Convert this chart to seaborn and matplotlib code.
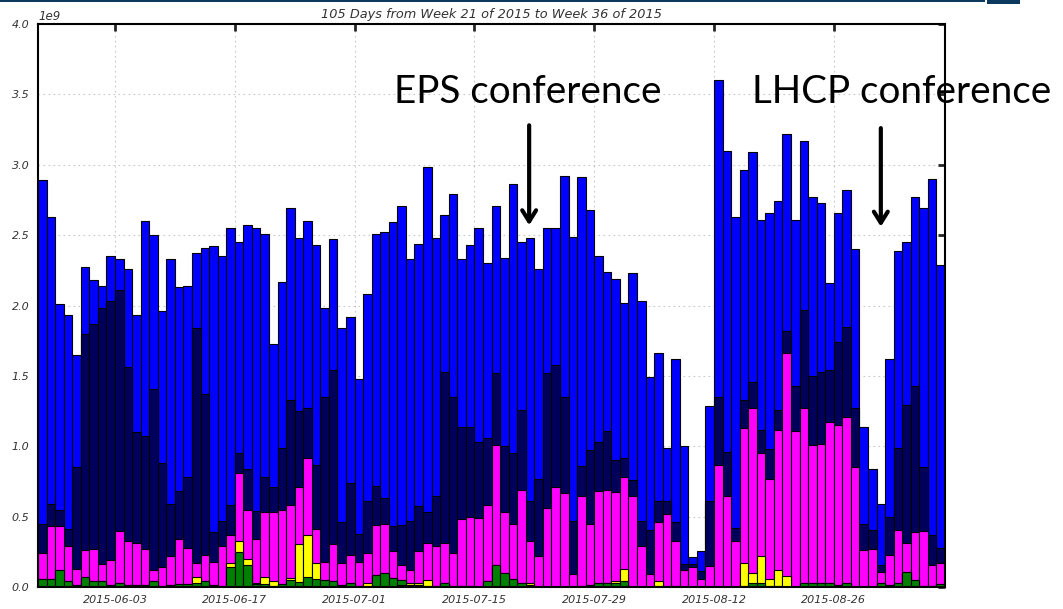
import numpy as np
import pandas as pd
import matplotlib
matplotlib.use("Agg")
import matplotlib.pyplot as plt
import seaborn as sns
from matplotlib.patches import Rectangle

# ---- data (values in units of 1e9) ----
days = list(pd.date_range("2015-05-25", periods=106).strftime("%Y-%m-%d"))

# top of the whole stack (blue layer top)
total = [2.89, 2.63, 2.01, 1.93, 1.65, 2.27, 2.18, 2.14, 2.35, 2.33,
         2.26, 1.93, 2.60, 2.50, 1.96, 2.33, 2.13, 2.14, 2.37, 2.41,
         2.42, 2.35, 2.55, 2.45, 2.57, 2.55, 2.51, 1.73, 2.17, 2.69,
         2.48, 2.60, 2.43, 1.98, 2.47, 1.84, 1.92, 1.48, 2.08, 2.51,
         2.52, 2.59, 2.71, 2.33, 2.44, 2.985, 2.48, 2.64, 2.79, 2.33,
         2.43, 2.55, 2.30, 2.71, 2.34, 2.86, 2.45, 2.48, 2.26, 2.55,
         2.55, 2.92, 2.49, 2.91, 2.68, 2.35, 2.24, 2.19, 2.02, 2.23,
         2.03, 1.49, 1.66, 0.99, 1.62, 1.00, 0.215, 0.255, 1.285, 3.60,
         3.10, 2.63, 2.96, 3.09, 2.61, 2.66, 2.74, 3.22, 2.61, 3.17,
         2.77, 2.73, 2.16, 2.66, 2.82, 2.40, 1.14, 0.84, 0.59, 1.62,
         2.39, 2.45, 2.77, 2.69, 2.90, 2.29]
# top of the dark navy layer
navy_top = [0.45, 0.59, 0.55, 0.41, 0.85, 1.80, 1.87, 1.98, 2.03, 2.11,
            1.56, 1.10, 1.07, 1.41, 0.88, 0.59, 0.68, 0.78, 1.84, 1.37,
            0.39, 0.47, 0.58, 0.95, 0.84, 0.54, 0.78, 0.71, 0.99, 1.33,
            1.25, 1.27, 0.87, 1.35, 1.54, 0.46, 0.74, 0.38, 0.61, 0.72,
            0.63, 0.43, 0.44, 0.47, 0.575, 0.535, 0.65, 1.53, 1.35, 1.14,
            1.14, 1.03, 1.06, 1.52, 1.00, 0.95, 1.26, 0.61, 0.77, 1.52,
            1.58, 1.35, 0.47, 0.86, 0.97, 1.03, 1.11, 0.90, 0.92, 0.76,
            0.47, 0.405, 0.61, 0.61, 0.46, 0.16, 0.16, 0.115, 0.61, 1.35,
            0.96, 0.42, 1.33, 1.46, 1.115, 0.98, 1.26, 1.82, 1.43, 1.97,
            1.50, 1.53, 1.54, 1.74, 1.85, 1.27, 0.45, 0.405, 0.156, 0.50,
            0.99, 1.29, 1.43, 0.85, 0.37, 0.275]
# top of the magenta layer
magenta_top = [0.24, 0.43, 0.43, 0.29, 0.13, 0.26, 0.27, 0.16, 0.19, 0.40,
               0.33, 0.31, 0.27, 0.12, 0.14, 0.22, 0.34, 0.28, 0.17, 0.23,
               0.18, 0.29, 0.37, 0.81, 0.55, 0.34, 0.53, 0.535, 0.55, 0.58,
               0.71, 0.92, 0.41, 0.18, 0.305, 0.17, 0.23, 0.175, 0.245, 0.44,
               0.45, 0.255, 0.156, 0.12, 0.255, 0.31, 0.29, 0.31, 0.245, 0.48,
               0.50, 0.49, 0.58, 1.01, 0.535, 0.45, 0.69, 0.33, 0.22, 0.56,
               0.71, 0.67, 0.09, 0.65, 0.45, 0.68, 0.69, 0.675, 0.78, 0.65,
               0.29, 0.09, 0.46, 0.52, 0.33, 0.12, 0.14, 0.057, 0.15, 0.87,
               0.65, 0.33, 1.13, 1.27, 0.95, 0.77, 1.115, 1.66, 1.11, 1.27,
               1.01, 1.015, 1.17, 1.15, 1.205, 0.85, 0.26, 0.27, 0.11, 0.23,
               0.405, 0.31, 0.39, 0.40, 0.156, 0.17]
# top of the yellow layer
yellow_top = [0.06, 0.06, 0.12, 0.04, 0.015, 0.07, 0.04, 0.04, 0.015, 0.03,
              0.015, 0.015, 0.015, 0.04, 0.007, 0.015, 0.02, 0.02, 0.07, 0.045,
              0.015, 0.007, 0.17, 0.33, 0.20, 0.026, 0.07, 0.04, 0.02, 0.066,
              0.305, 0.37, 0.17, 0.05, 0.045, 0.015, 0.026, 0.01, 0.03, 0.085,
              0.10, 0.066, 0.05, 0.026, 0.026, 0.05, 0.01, 0.026, 0.007, 0.01,
              0.01, 0.0, 0.04, 0.156, 0.097, 0.057, 0.03, 0.026, 0.0, 0.0,
              0.0, 0.0, 0.0, 0.005, 0.015, 0.026, 0.03, 0.04, 0.13, 0.0,
              0.0, 0.0, 0.04, 0.01, 0.01, 0.0, 0.0, 0.0, 0.0, 0.0,
              0.0, 0.0, 0.17, 0.10, 0.22, 0.06, 0.12, 0.078, 0.0, 0.03,
              0.03, 0.03, 0.026, 0.015, 0.026, 0.0, 0.0, 0.0, 0.026, 0.015,
              0.03, 0.11, 0.05, 0.01, 0.01, 0.02]
# top of the green layer
green_top = [0.06, 0.06, 0.12, 0.04, 0.015, 0.07, 0.04, 0.04, 0.015, 0.03,
             0.015, 0.015, 0.015, 0.04, 0.007, 0.015, 0.02, 0.02, 0.03, 0.045,
             0.015, 0.007, 0.145, 0.25, 0.155, 0.02, 0.02, 0.01, 0.02, 0.05,
             0.035, 0.07, 0.055, 0.05, 0.045, 0.015, 0.026, 0.01, 0.01, 0.085,
             0.10, 0.066, 0.05, 0.015, 0.015, 0.01, 0.01, 0.026, 0.007, 0.01,
             0.01, 0.0, 0.04, 0.156, 0.097, 0.057, 0.03, 0.015, 0.0, 0.0,
             0.0, 0.0, 0.0, 0.005, 0.015, 0.026, 0.03, 0.03, 0.04, 0.0,
             0.0, 0.0, 0.01, 0.0, 0.01, 0.0, 0.0, 0.0, 0.0, 0.0,
             0.0, 0.0, 0.01, 0.026, 0.026, 0.01, 0.01, 0.0, 0.0, 0.03,
             0.03, 0.03, 0.026, 0.015, 0.026, 0.0, 0.0, 0.0, 0.026, 0.015,
             0.03, 0.11, 0.05, 0.01, 0.01, 0.02]
# small cyan layer at the very bottom
cyan_top = [0.0] * 42 + [0.012, 0.012, 0.012] + [0.0] * 12 + [0.012] + [0.0] * 48

tick_days = ["2015-06-03", "2015-06-17", "2015-07-01", "2015-07-15",
             "2015-07-29", "2015-08-12", "2015-08-26"]

layer_colors = ["#0000ff", "#00005c", "#ff00ff", "#ffff00", "#008000", "#00a8a8"]

# ---- plot ----
sns.set_style("white")
plt.rcParams["font.family"] = ["DejaVu Sans"]

fig = plt.figure(figsize=(10.63, 6.09), dpi=100)
ax = fig.add_axes([38 / 1063, 1 - 587 / 609, (945 - 38) / 1063, (587 - 24) / 609])

layers = [total, navy_top, magenta_top, yellow_top, green_top, cyan_top]
for vals, col in zip(layers, layer_colors):
    sns.barplot(x=days, y=np.array(vals) * 1e9, order=days, color=col,
                width=1.0, saturation=1, edgecolor="black", linewidth=0.8,
                ax=ax)

ax.set_xlim(-0.5, len(days) - 0.5)
ax.set_ylim(0, 4e9)
ax.set_yticks(np.arange(0, 4.01, 0.5) * 1e9)
ax.set_xticks([days.index(d) - 0.5 for d in tick_days])
ax.set_xticklabels(tick_days)
ax.set_xlabel("")
ax.set_ylabel("")

ax.grid(True, linestyle=(0, (1.5, 3)), color="#c8c8c8", linewidth=0.8)
ax.set_axisbelow(True)

ax.tick_params(direction="in", length=5, width=2, top=True, right=True,
               labelsize=8, labelcolor="#333333", pad=6)
for lbl in ax.get_xticklabels() + ax.get_yticklabels():
    lbl.set_style("italic")
ax.yaxis.get_offset_text().set_style("italic")
ax.yaxis.get_offset_text().set_fontsize(8.5)
ax.yaxis.get_offset_text().set_color("#333333")

for sp in ax.spines.values():
    sp.set_linewidth(1.5)
    sp.set_color("black")

ax.set_title("105 Days from Week 21 of 2015 to Week 36 of 2015",
             fontsize=9.3, style="italic", color="#333333", pad=4)

# annotations
ax.text(56.7, 3.52e9, "EPS conference", family=["Lato", "DejaVu Sans"],
        fontsize=27.8, ha="center", va="center", color="black")
ax.annotate("", xy=(56.9, 2.55e9), xytext=(56.9, 3.30e9),
            arrowprops=dict(arrowstyle="->,head_length=0.8,head_width=0.5",
                            lw=3, color="black"))
ax.text(83.0, 3.52e9, "LHCP conference", family=["Lato", "DejaVu Sans"],
        fontsize=27.8, ha="left", va="center", color="black", clip_on=False)
ax.annotate("", xy=(98.0, 2.54e9), xytext=(98.0, 3.28e9),
            arrowprops=dict(arrowstyle="->,head_length=0.8,head_width=0.5",
                            lw=3, color="black"))

# slide header stripe
fig.add_artist(Rectangle((0, 1 - 2 / 609), 985 / 1063, 2 / 609,
                         transform=fig.transFigure, color="#0b3a5e", lw=0))
fig.add_artist(Rectangle((987 / 1063, 1 - 4 / 609), 33 / 1063, 4 / 609,
                         transform=fig.transFigure, color="#0b3a5e", lw=0))

fig.savefig("out.png", dpi=100)
